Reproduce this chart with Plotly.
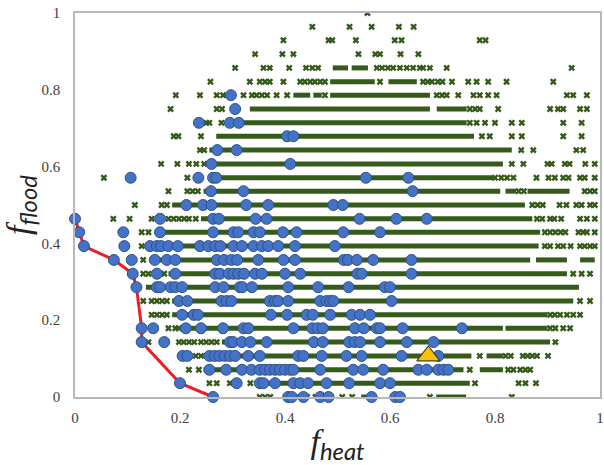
import plotly.graph_objects as go

FLOOD_LEVELS = [0.0, 0.036, 0.071, 0.107, 0.143, 0.179, 0.214, 0.25, 0.286, 0.321,
                0.357, 0.393, 0.429, 0.464, 0.5, 0.536, 0.571, 0.607, 0.643, 0.679,
                0.714, 0.75, 0.786, 0.821, 0.857, 0.893, 0.929, 0.964, 1.0]

# dense runs of green "x" samples, per f_flood level: [start, end] in f_heat
GREEN_DENSE = [
    [[0.420, 0.435], [0.545, 0.560], [0.688, 0.745]],
    [[0.345, 0.752]],
    [[0.245, 0.740], [0.771, 0.815]],
    [[0.245, 0.755], [0.784, 0.815]],
    [[0.280, 0.905]],
    [[0.205, 0.815], [0.820, 0.900]],
    [[0.185, 0.900]],
    [[0.185, 0.949]],
    [[0.135, 0.960]],
    [[0.178, 0.937]],
    [[0.143, 0.867], [0.878, 0.937], [0.962, 0.990]],
    [[0.136, 0.883]],
    [[0.152, 0.886]],
    [[0.240, 0.871]],
    [[0.185, 0.857]],
    [[0.245, 0.810], [0.820, 0.840], [0.862, 0.942]],
    [[0.266, 0.797]],
    [[0.250, 0.815]],
    [[0.256, 0.832]],
    [[0.269, 0.760]],
    [[0.318, 0.746]],
    [[0.333, 0.676], [0.689, 0.746]],
    [[0.416, 0.448], [0.454, 0.470], [0.486, 0.676]],
    [[0.486, 0.571], [0.597, 0.651]],
    [[0.491, 0.520], [0.527, 0.558]],
    [], [], [], [],
]

# isolated green "x" samples, per f_flood level
GREEN_SPARSE = [
    [0.352, 0.362, 0.372, 0.442, 0.458, 0.509, 0.528, 0.676, 0.832],
    [0.256, 0.270, 0.295, 0.334, 0.762, 0.845, 0.858, 0.878],
    [0.217, 0.236, 0.752, 0.825, 0.835, 0.848, 0.858, 0.867],
    [0.230, 0.240, 0.771, 0.820, 0.830, 0.853, 0.862, 0.871, 0.880, 0.901],
    [0.140, 0.198, 0.207, 0.217, 0.227, 0.240, 0.250, 0.260, 0.270, 0.915],
    [0.178, 0.191, 0.198, 0.905, 0.915, 0.930, 0.943],
    [0.146, 0.156, 0.166, 0.175, 0.905, 0.914, 0.924, 0.937, 0.949, 0.962],
    [0.130, 0.146, 0.156, 0.166, 0.175, 0.962, 0.981],
    [],
    [0.130, 0.140, 0.170, 0.949, 0.965, 0.981],
    [0.130],
    [0.127, 0.895, 0.905, 0.920, 0.930, 0.944, 0.962, 0.971, 0.981, 0.990],
    [0.127, 0.140, 0.895, 0.905, 0.915, 0.925, 0.934, 0.959, 0.968, 0.975, 0.990],
    [0.073, 0.104, 0.146, 0.178, 0.188, 0.198, 0.208, 0.217, 0.230, 0.880, 0.890,
     0.905, 0.913, 0.926, 0.962, 0.975, 0.990],
    [0.114, 0.165, 0.175, 0.871, 0.881, 0.891, 0.923, 0.936, 0.955, 0.965, 0.981, 0.990],
    [0.178, 0.214, 0.224, 0.234, 0.845, 0.855, 0.971, 0.981, 0.990],
    [0.055, 0.214, 0.800, 0.812, 0.823, 0.835, 0.879, 0.902, 0.914, 0.930, 0.940,
     0.962, 0.971, 0.990],
    [0.164, 0.195, 0.217, 0.231, 0.246, 0.832, 0.854, 0.900, 0.908, 0.933, 0.942,
     0.972, 0.990],
    [0.238, 0.246, 0.850, 0.873, 0.955, 0.968],
    [0.188, 0.197, 0.240, 0.775, 0.790, 0.832, 0.851, 0.930, 0.965],
    [0.250, 0.256, 0.279, 0.752, 0.765, 0.781, 0.800, 0.832, 0.851, 0.930, 0.965],
    [0.182, 0.270, 0.280, 0.752, 0.762, 0.771, 0.806, 0.905, 0.920, 0.930, 0.962, 0.975],
    [0.192, 0.238, 0.270, 0.282, 0.321, 0.337, 0.346, 0.356, 0.366, 0.384, 0.404,
     0.476, 0.689, 0.699, 0.708, 0.730, 0.759, 0.771, 0.787, 0.803, 0.937, 0.949, 0.975],
    [0.258, 0.333, 0.352, 0.362, 0.371, 0.397, 0.429, 0.438, 0.448, 0.457, 0.467,
     0.476, 0.581, 0.663, 0.672, 0.680, 0.691, 0.700, 0.718, 0.749, 0.765, 0.787,
     0.822, 0.911],
    [0.305, 0.359, 0.371, 0.408, 0.440, 0.452, 0.463, 0.575, 0.585, 0.596, 0.606,
     0.619, 0.632, 0.644, 0.657, 0.663, 0.676, 0.708, 0.946],
    [0.343, 0.395, 0.416, 0.540, 0.572, 0.581, 0.620, 0.654],
    [0.397, 0.483, 0.490, 0.535, 0.609, 0.622, 0.771, 0.782],
    [0.452, 0.523, 0.565, 0.617, 0.645],
    [0.557],
]

# blue circles (non-Pareto), per f_flood level
BLUE_POINTS = [
    [0.406, 0.413, 0.435, 0.467, 0.483, 0.565, 0.610, 0.619],
    [0.308, 0.352, 0.359, 0.381, 0.416, 0.429, 0.444, 0.479, 0.522, 0.581, 0.600],
    [0.256, 0.288, 0.318, 0.336, 0.352, 0.362, 0.371, 0.381, 0.390, 0.400, 0.410,
     0.416, 0.467, 0.530, 0.549, 0.587, 0.654, 0.670, 0.692, 0.702, 0.711],
    [0.205, 0.214, 0.256, 0.266, 0.275, 0.285, 0.295, 0.305, 0.330, 0.352, 0.425,
     0.435, 0.470, 0.517, 0.546, 0.622, 0.692],
    [0.170, 0.295, 0.301, 0.318, 0.334, 0.365, 0.455, 0.472, 0.522, 0.533, 0.543,
     0.581, 0.632, 0.683],
    [0.149, 0.211, 0.240, 0.282, 0.321, 0.330, 0.416, 0.452, 0.462, 0.472, 0.533,
     0.550, 0.575, 0.581, 0.624, 0.737],
    [0.204, 0.226, 0.234, 0.373, 0.404, 0.441, 0.453, 0.486, 0.527, 0.543, 0.562],
    [0.198, 0.214, 0.279, 0.289, 0.298, 0.371, 0.381, 0.387, 0.406, 0.467, 0.479,
     0.486, 0.492, 0.603],
    [0.156, 0.162, 0.182, 0.191, 0.204, 0.267, 0.283, 0.314, 0.319, 0.337, 0.406,
     0.463, 0.521, 0.590, 0.600],
    [0.156, 0.191, 0.267, 0.276, 0.293, 0.302, 0.311, 0.322, 0.343, 0.356, 0.400,
     0.429, 0.538, 0.546, 0.641],
    [0.108, 0.152, 0.175, 0.191, 0.270, 0.284, 0.298, 0.309, 0.349, 0.397, 0.419,
     0.512, 0.520, 0.537, 0.568, 0.641],
    [0.094, 0.143, 0.156, 0.164, 0.178, 0.196, 0.238, 0.254, 0.267, 0.277, 0.302,
     0.318, 0.340, 0.356, 0.368, 0.387, 0.419, 0.495],
    [0.092, 0.162, 0.263, 0.302, 0.311, 0.340, 0.352, 0.396, 0.422, 0.511, 0.581],
    [0.162, 0.263, 0.274, 0.344, 0.365, 0.542, 0.612, 0.670],
    [0.212, 0.244, 0.260, 0.326, 0.368, 0.492, 0.510],
    [0.259, 0.321, 0.643],
    [0.106, 0.235, 0.263, 0.269, 0.554, 0.635],
    [0.260, 0.410],
    [0.271, 0.308],
    [0.404, 0.416],
    [0.236, 0.295, 0.312],
    [0.305],
    [0.297],
    [], [], [], [], [], [],
]

PARETO_HEAT = [0.0, 0.008, 0.017, 0.074, 0.110, 0.117, 0.127, 0.127, 0.200, 0.263]
PARETO_FLOOD = [0.464, 0.429, 0.393, 0.357, 0.321, 0.286, 0.179, 0.143, 0.036, 0.0]

TRIANGLE_HEAT = [0.673]
TRIANGLE_FLOOD = [0.107]

TICK_VALS = [0, 0.2, 0.4, 0.6, 0.8, 1]
TICK_TEXT = ["0", "0.2", "0.4", "0.6", "0.8", "1"]

GREEN = "#365a1a"
BLUE = "#4472C4"
BLUE_EDGE = "#2f528f"
SERIF = "Liberation Serif, Times New Roman, DejaVu Serif, serif"

# build traces
dx, dy = [], []
for lvl, segs in zip(FLOOD_LEVELS, GREEN_DENSE):
    for a, b in segs:
        dx += [a, b, None]
        dy += [lvl, lvl, None]

sx, sy = [], []
for lvl, pts in zip(FLOOD_LEVELS, GREEN_SPARSE):
    sx += pts
    sy += [lvl] * len(pts)

bx, by = [], []
for lvl, pts in zip(FLOOD_LEVELS, BLUE_POINTS):
    bx += pts
    by += [lvl] * len(pts)

fig = go.Figure()
fig.add_trace(go.Scatter(x=dx, y=dy, mode="lines",
                         line=dict(color=GREEN, width=5), hoverinfo="skip",
                         showlegend=False))
fig.add_trace(go.Scatter(x=sx, y=sy, mode="markers",
                         marker=dict(symbol="x", size=6, color=GREEN,
                                     line=dict(width=0)),
                         showlegend=False))
fig.add_trace(go.Scatter(x=bx, y=by, mode="markers",
                         marker=dict(symbol="circle", size=11, color=BLUE,
                                     line=dict(width=1, color=BLUE_EDGE)),
                         cliponaxis=False, showlegend=False))
fig.add_trace(go.Scatter(x=PARETO_HEAT, y=PARETO_FLOOD, mode="lines+markers",
                         line=dict(color="#ee1c24", width=3),
                         marker=dict(symbol="circle", size=11, color=BLUE,
                                     line=dict(width=1, color=BLUE_EDGE)),
                         cliponaxis=False, showlegend=False))
fig.add_trace(go.Scatter(x=TRIANGLE_HEAT, y=TRIANGLE_FLOOD, mode="markers",
                         marker=dict(symbol="triangle-up", size=20, color="#FFC000",
                                     line=dict(width=1.2, color="#404040")),
                         cliponaxis=False, showlegend=False))

axis_common = dict(range=[0, 1], tickvals=TICK_VALS, ticktext=TICK_TEXT,
                   showgrid=False, zeroline=False, showline=True, mirror=True,
                   linecolor="#b8b8b8", linewidth=1.5, ticks="",
                   tickfont=dict(family=SERIF, size=15, color="#404040"))

fig.update_xaxes(**axis_common, ticklabelstandoff=6,
                 title=dict(text="<i>f</i><sub><span style=\"font-family:Lato\"><i>heat</i></span></sub>",
                            font=dict(family=SERIF, size=34, color="#222"),
                            standoff=4))
fig.update_yaxes(**axis_common, ticklabelstandoff=10,
                 title=dict(text="<i>f</i><sub><span style=\"font-family:Lato\"><i>flood</i></span></sub>",
                            font=dict(family=SERIF, size=34, color="#222"),
                            standoff=6))

fig.update_layout(width=604, height=465,
                  margin=dict(l=75, r=4, t=13, b=68, autoexpand=False),
                  paper_bgcolor="white", plot_bgcolor="white")

fig.write_html("out.html")
